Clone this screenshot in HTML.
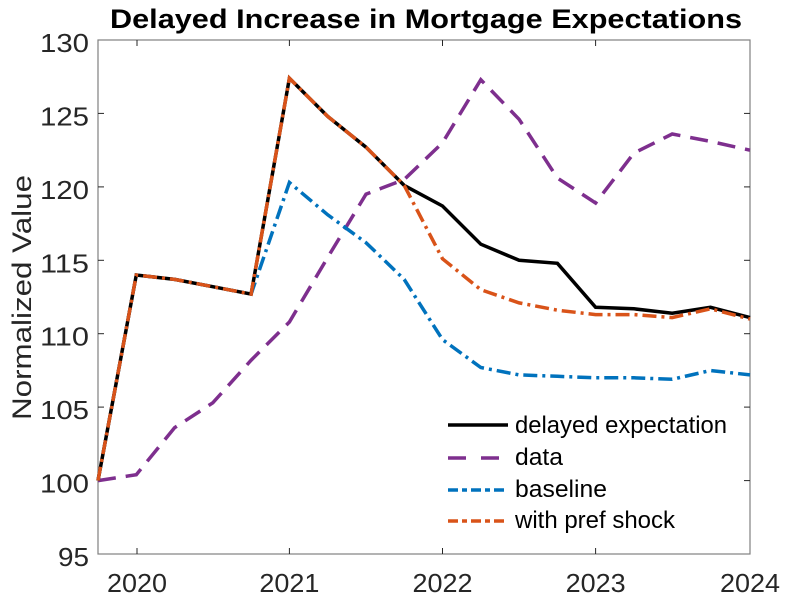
<!DOCTYPE html>
<html><head><meta charset="utf-8"><style>body{margin:0;background:#fff}svg{display:block}text{font-family:"Liberation Sans",sans-serif;fill:#262626}</style></head>
<body>
<svg width="786" height="600" viewBox="0 0 786 600" xmlns="http://www.w3.org/2000/svg">
<rect x="98" y="40" width="652" height="514" fill="#fff" stroke="#808080" stroke-width="1.2"/>
<g stroke="#262626" stroke-width="1">
<line x1="98" y1="113.4" x2="104" y2="113.4"/><line x1="98" y1="186.9" x2="104" y2="186.9"/><line x1="98" y1="260.3" x2="104" y2="260.3"/><line x1="98" y1="333.7" x2="104" y2="333.7"/><line x1="98" y1="407.1" x2="104" y2="407.1"/><line x1="98" y1="480.6" x2="104" y2="480.6"/>
<line x1="750" y1="113.4" x2="744" y2="113.4"/><line x1="750" y1="186.9" x2="744" y2="186.9"/><line x1="750" y1="260.3" x2="744" y2="260.3"/><line x1="750" y1="333.7" x2="744" y2="333.7"/><line x1="750" y1="407.1" x2="744" y2="407.1"/><line x1="750" y1="480.6" x2="744" y2="480.6"/>
<line x1="137" y1="554" x2="137" y2="548"/><line x1="289.4" y1="554" x2="289.4" y2="548"/><line x1="442.5" y1="554" x2="442.5" y2="548"/><line x1="595.6" y1="554" x2="595.6" y2="548"/>
<line x1="137" y1="40" x2="137" y2="46"/><line x1="289.4" y1="40" x2="289.4" y2="46"/><line x1="442.5" y1="40" x2="442.5" y2="46"/><line x1="595.6" y1="40" x2="595.6" y2="46"/>
</g>
<g font-size="25.5" text-anchor="end">
<text x="89" y="52" textLength="49" lengthAdjust="spacingAndGlyphs">130</text>
<text x="89" y="125.4" textLength="49" lengthAdjust="spacingAndGlyphs">125</text>
<text x="89" y="198.9" textLength="49" lengthAdjust="spacingAndGlyphs">120</text>
<text x="89" y="272.3" textLength="49" lengthAdjust="spacingAndGlyphs">115</text>
<text x="89" y="345.7" textLength="49" lengthAdjust="spacingAndGlyphs">110</text>
<text x="89" y="419.1" textLength="49" lengthAdjust="spacingAndGlyphs">105</text>
<text x="89" y="492.6" textLength="49" lengthAdjust="spacingAndGlyphs">100</text>
<text x="89" y="566" textLength="31" lengthAdjust="spacingAndGlyphs">95</text>
</g>
<g font-size="25.5">
<text x="107" y="592" textLength="60" lengthAdjust="spacingAndGlyphs">2020</text>
<text x="259.4" y="592" textLength="60" lengthAdjust="spacingAndGlyphs">2021</text>
<text x="412.5" y="592" textLength="60" lengthAdjust="spacingAndGlyphs">2022</text>
<text x="565.6" y="592" textLength="60" lengthAdjust="spacingAndGlyphs">2023</text>
<text x="720" y="592" textLength="60" lengthAdjust="spacingAndGlyphs">2024</text>
</g>
<text transform="translate(31,297.5) rotate(-90)" font-size="27" text-anchor="middle" textLength="245" lengthAdjust="spacingAndGlyphs">Normalized Value</text>
<text x="110" y="28" font-size="27" font-weight="bold" textLength="632" lengthAdjust="spacingAndGlyphs" style="fill:#000">Delayed Increase in Mortgage Expectations</text>
<g fill="none" stroke-width="3.5">
<polyline stroke="#7e2f8e" stroke-dasharray="18,10" points="98,480.6 136.3,474.7 174.6,427.7 212.8,402.8 251.1,360.2 289.4,322 327.7,257.4 366,194.2 404.2,179.5 442.5,142.8 480.8,79.7 519.1,119.3 557.4,178 595.6,203 633.9,153.1 672.2,134 710.5,141.4 750,150.2"/>
<polyline stroke="#0072bd" stroke-dasharray="14,5,3,5" points="98,480.6 136.3,275 174.6,279.4 212.8,286.7 251.1,294.1 289.4,182.5 327.7,214.8 366,242.7 404.2,279.4 442.5,339.6 480.8,367.5 519.1,374.9 557.4,376.3 595.6,377.8 633.9,377.8 672.2,379.3 710.5,370.5 750,374.9"/>
<polyline stroke="#000" points="98,480.6 136.3,275 174.6,279.4 212.8,286.7 251.1,294.1 289.4,78.2 327.7,116.4 366,147.2 404.2,185.4 442.5,206 480.8,244.2 519.1,260.3 557.4,263.3 595.6,307.3 633.9,308.8 672.2,313.2 710.5,307.3 750,317.6"/>
<polyline stroke="#d95319" stroke-dasharray="14,5,3,5" points="98,480.6 136.3,275 174.6,279.4 212.8,286.7 251.1,294.1 289.4,78.2 327.7,116.4 366,147.2 404.2,185.4 442.5,258.8 480.8,289.7 519.1,302.9 557.4,310.2 595.6,314.6 633.9,314.6 672.2,317.6 710.5,308.8 750,319"/>
<line x1="448" y1="425" x2="508" y2="425" stroke="#000"/>
<line x1="448" y1="458" x2="508" y2="458" stroke="#7e2f8e" stroke-dasharray="18,15"/>
<line x1="448" y1="490" x2="508" y2="490" stroke="#0072bd" stroke-dasharray="10,4,5,4"/>
<line x1="448" y1="521" x2="508" y2="521" stroke="#d95319" stroke-dasharray="10,4,5,4"/>
</g>
<g font-size="24">
<text x="515" y="433" textLength="212" lengthAdjust="spacingAndGlyphs" style="fill:#000">delayed expectation</text>
<text x="515" y="465" textLength="48" lengthAdjust="spacingAndGlyphs" style="fill:#000">data</text>
<text x="515" y="497" textLength="92" lengthAdjust="spacingAndGlyphs" style="fill:#000">baseline</text>
<text x="515" y="528" textLength="160" lengthAdjust="spacingAndGlyphs" style="fill:#000">with pref shock</text>
</g>
</svg>
</body></html>
